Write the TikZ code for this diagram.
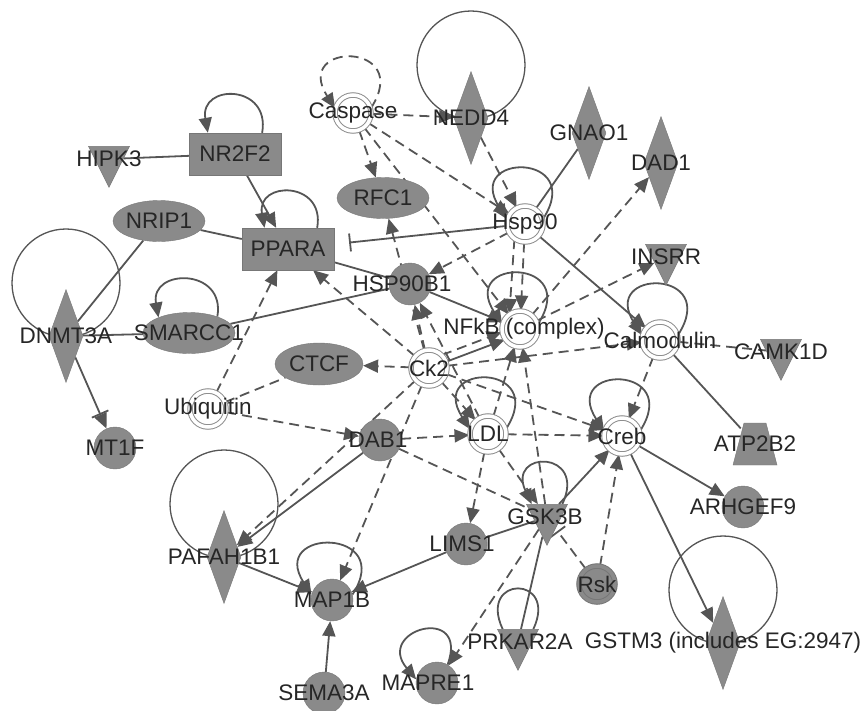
\documentclass[tikz,border=0pt]{standalone}
\usepackage{fontspec}
\setmainfont{Liberation Sans}
\usetikzlibrary{arrows.meta,shapes.geometric}
\definecolor{genefill}{HTML}{8A8A8A}
\definecolor{geneline}{HTML}{777777}
\definecolor{edgecol}{HTML}{555555}
\definecolor{ringcol}{HTML}{8E8E8E}
\definecolor{txtcol}{HTML}{262626}
\def\selfloop[#1](#2)(#3:#4:#5:#6:#7){\draw[#1] (#2.#3) .. controls +(#5:#7) and +(#6:#7) .. (#2.#4);}
\def\bigloop(#1){\draw[loopline] ([yshift=53pt]#1.center) circle (54pt);}
\pgfdeclarelayer{back}
\pgfsetlayers{back,main}
\tikzset{
	every label/.style={font=\fontsize{22.5}{22.5}\selectfont, text=txtcol, inner sep=0pt},
	gene/.style={circle, draw=geneline, fill=genefill, minimum size=42pt, inner sep=0pt},
	cplx/.style={circle, draw=ringcol, line width=1pt, double=white, double distance=3.5pt, fill=white, minimum size=36pt, inner sep=0pt},
	grp/.style={circle, draw=geneline, line width=1pt, double=genefill, double distance=3.5pt, fill=genefill, minimum size=36pt, inner sep=0pt},
	diam/.style={diamond, draw=geneline, fill=genefill, minimum width=34pt, minimum height=93pt, inner sep=0pt},
	tri/.style={isosceles triangle, shape border rotate=-90, isosceles triangle stretches, draw=geneline, fill=genefill, minimum width=41pt, minimum height=41pt, inner sep=0pt},
	oval/.style={ellipse, draw=geneline, fill=genefill, minimum width=92pt, minimum height=41pt, inner sep=0pt},
	box/.style={rectangle, draw=geneline, fill=genefill, minimum width=92pt, minimum height=42pt, inner sep=0pt},
	spot/.style={circle, minimum size=42pt, inner sep=0pt},
	sol/.style={draw=edgecol, line width=1.8pt},
	das/.style={sol, dash pattern=on 10pt off 6pt},
	arr/.style={-{Triangle[length=15pt,width=13pt]}},
	inh/.style={-{Bar[width=18pt]}, shorten >=15pt},
	mix/.style={-{Bar[width=18pt] Triangle[length=15pt,width=13pt]}},
	loopline/.style={draw=edgecol, line width=1.3pt}
}
\begin{document}
\begin{tikzpicture}[x=1pt, y=-1pt]
	%%%%% START %%%%%
	\useasboundingbox (0,0) rectangle (861,710);
	
	% transporter outline
	\draw[geneline, fill=genefill] (733,465) -- (777,465) -- (766,423) -- (744,423) -- cycle;
	
	% molecules
	\node[cplx, label={center:Caspase}] (caspase) at (353,113) {};
	\node[diam, label={center:NEDD4}] (nedd4) at (471,118) {};
	\node[diam, label={center:GNAO1}] (gnao1) at (589,133) {};
	\node[diam, label={center:DAD1}] (dad1) at (661,163) {};
	\node[tri, label={center:HIPK3}] (hipk3) at (109,159) {};
	\node[box, label={center:NR2F2}] (nr2f2) at (235,154) {};
	\node[oval, label={center:NRIP1}] (nrip1) at (159,221) {};
	\node[oval, label={center:RFC1}] (rfc1) at (383,198) {};
	\node[box, label={center:PPARA}] (ppara) at (288,249) {};
	\node[cplx, label={center:Hsp90}] (hsp90) at (525,224) {};
	\node[gene, label={[xshift=-8pt]center:HSP90B1}] (hsp90b1) at (410,284) {};
	\node[diam, label={center:DNMT3A}] (dnmt3a) at (66,336) {};
	\node[oval, label={center:SMARCC1}] (smarcc1) at (189,333) {};
	\node[tri, label={center:INSRR}] (insrr) at (666,257) {};
	\node[cplx, label={[xshift=4pt]center:NFkB (complex)}] (nfkb) at (520,329) {};
	\node[cplx, label={center:Calmodulin}] (calmodulin) at (660,340) {};
	\node[tri, label={center:CAMK1D}] (camk1d) at (781,352) {};
	\node[oval, minimum width=88pt, minimum height=42pt, label={center:CTCF}] (ctcf) at (319,364) {};
	\node[cplx, label={center:Ck2}] (ck2) at (429,368) {};
	\node[cplx, label={center:Ubiquitin}] (ubiquitin) at (208,409) {};
	\node[gene, label={center:MT1F}] (mt1f) at (115,448) {};
	\node[gene, label={[xshift=-2pt]center:DAB1}] (dab1) at (380,440) {};
	\node[cplx, label={center:LDL}] (ldl) at (488,434) {};
	\node[cplx, label={center:Creb}] (creb) at (622,436) {};
	\node[spot, label={center:ATP2B2}] (atp2b2) at (755,444) {};
	\node[gene, label={center:ARHGEF9}] (arhgef9) at (743,507) {};
	\node[tri, label={[xshift=-2pt]center:GSK3B}] (gsk3b) at (547,517) {};
	\node[gene, label={[xshift=-4pt]center:LIMS1}] (lims1) at (466,544) {};
	\node[grp, label={center:Rsk}] (rsk) at (597,584) {};
	\node[diam, label={center:PAFAH1B1}] (pafah1b1) at (224,557) {};
	\node[gene, label={center:MAP1B}] (map1b) at (332,600) {};
	\node[tri, label={[xshift=2pt]center:PRKAR2A}] (prkar2a) at (518,642) {};
	\node[diam, label={center:GSTM3 (includes EG:2947)}] (gstm3) at (723,643) {};
	\node[gene, label={[xshift=-9pt]center:MAPRE1}] (mapre1) at (437,683) {};
	\node[gene, label={center:SEMA3A}] (sema3a) at (324,693) {};
	
	\begin{pgfonlayer}{back}
		% loops
		\bigloop(nedd4)
		\bigloop(dnmt3a)
		\bigloop(pafah1b1)
		\bigloop(gstm3)
		\selfloop[das,arr](caspase)(15:165:57:123:80pt)
		\selfloop[sol,arr](nr2f2)(38:142:80:100:50pt)
		\selfloop[sol,arr](ppara)(36:138:80:100:48pt)
		\selfloop[sol,arr](smarcc1)(30:153:80:100:50pt)
		\selfloop[sol,arr](hsp90)(15:165:57:123:80pt)
		\selfloop[sol,arr](nfkb)(15:165:57:123:80pt)
		\selfloop[sol,arr](calmodulin)(15:165:57:123:80pt)
		\selfloop[sol,arr](ldl)(15:165:57:123:80pt)
		\selfloop[sol,arr](creb)(15:165:57:123:80pt)
		\selfloop[sol,arr](map1b)(15:165:57:123:80pt)
		\selfloop[sol,arr](gsk3b)(40:140:65:115:60pt)
		\selfloop[sol](prkar2a)(40:140:65:115:60pt)
		\selfloop[sol,arr](mapre1)(60:170:70:130:65pt)
		
		% solid connectors
		\draw[sol,arr] (nr2f2) -- (ppara);
		\draw[sol] (nr2f2) -- (hipk3);
		\draw[sol] (nrip1) -- (ppara);
		\draw[sol] (nrip1) -- (dnmt3a);
		\draw[sol] (dnmt3a) -- (smarcc1);
		\draw[sol,mix] (dnmt3a) -- (mt1f);
		\draw[sol] (smarcc1) -- (hsp90b1);
		\draw[sol] (ppara) -- (hsp90b1);
		\draw[sol,inh] (hsp90) -- (ppara);
		\draw[sol] (gnao1) -- (hsp90);
		\draw[sol,arr] (hsp90) -- (calmodulin);
		\draw[sol,arr] (hsp90b1) -- (nfkb);
		\draw[sol,arr] (ck2.20) -- (nfkb.215);
		\draw[sol] (calmodulin) -- (atp2b2);
		\draw[sol,arr] (creb) -- (arhgef9);
		\draw[sol,arr] (creb) -- (gstm3);
		\draw[sol,arr] (gsk3b) -- (creb);
		\draw[sol] (gsk3b) -- (lims1);
		\draw[sol] (gsk3b) -- (prkar2a);
		\draw[sol,arr] (lims1) -- (map1b);
		\draw[sol,arr] (dab1) -- (pafah1b1);
		\draw[sol,arr] (pafah1b1) -- (map1b);
		\draw[sol,arr] (sema3a) -- (map1b);
		
		% dashed connectors
		\draw[das,arr] (caspase) -- (nedd4);
		\draw[das,arr] (caspase) -- (rfc1);
		\draw[das,arr] (caspase) -- (hsp90);
		\draw[das,arr] (caspase) -- (nfkb);
		\draw[das,arr] (nedd4) -- (hsp90);
		\draw[das,arr] (hsp90) -- (hsp90b1);
		\draw[das,arr] (hsp90) -- (nfkb);
		\draw[das,arr] (hsp90.235) -- (nfkb.125);
		\draw[das,arr] (nfkb) -- (dad1);
		\draw[das,arr] (nfkb) -- (insrr);
		\draw[das,arr] (ck2) -- (rfc1);
		\draw[das,arr] (ck2) -- (hsp90b1);
		\draw[das,arr] (ldl) -- (hsp90b1);
		\draw[das,arr] (ck2) -- (ppara);
		\draw[das,arr] (ubiquitin) -- (ppara);
		\draw[das,arr] (ck2) -- (ctcf);
		\draw[das] (ubiquitin) -- (ctcf);
		\draw[das,arr] (ubiquitin) -- (dab1);
		\draw[das,arr] (ck2.45) -- (nfkb.190);
		\draw[das,arr] (ck2) -- (calmodulin);
		\draw[das,arr] (ck2) -- (ldl);
		\draw[das,arr] (ck2) -- (creb);
		\draw[das,arr] (ck2) -- (pafah1b1);
		\draw[das,arr] (ck2) -- (map1b);
		\draw[das,arr] (dab1) -- (ldl);
		\draw[das] (dab1) -- (gsk3b);
		\draw[das,arr] (ldl) -- (creb);
		\draw[das,arr] (ldl) -- (lims1);
		\draw[das,arr] (ldl) -- (gsk3b);
		\draw[das,arr] (ldl) -- (nfkb);
		\draw[das,arr] (gsk3b) -- (nfkb);
		\draw[das] (calmodulin) -- (camk1d);
		\draw[das,arr] (calmodulin) -- (creb);
		\draw[das,arr] (rsk) -- (creb);
		\draw[das,-{Bar[width=18pt]}, shorten >=3pt] (rsk) -- (gsk3b);
		\draw[das,arr] (gsk3b) -- (mapre1);
	\end{pgfonlayer}
	
	%%%%% END %%%%%
\end{tikzpicture}
\end{document}
